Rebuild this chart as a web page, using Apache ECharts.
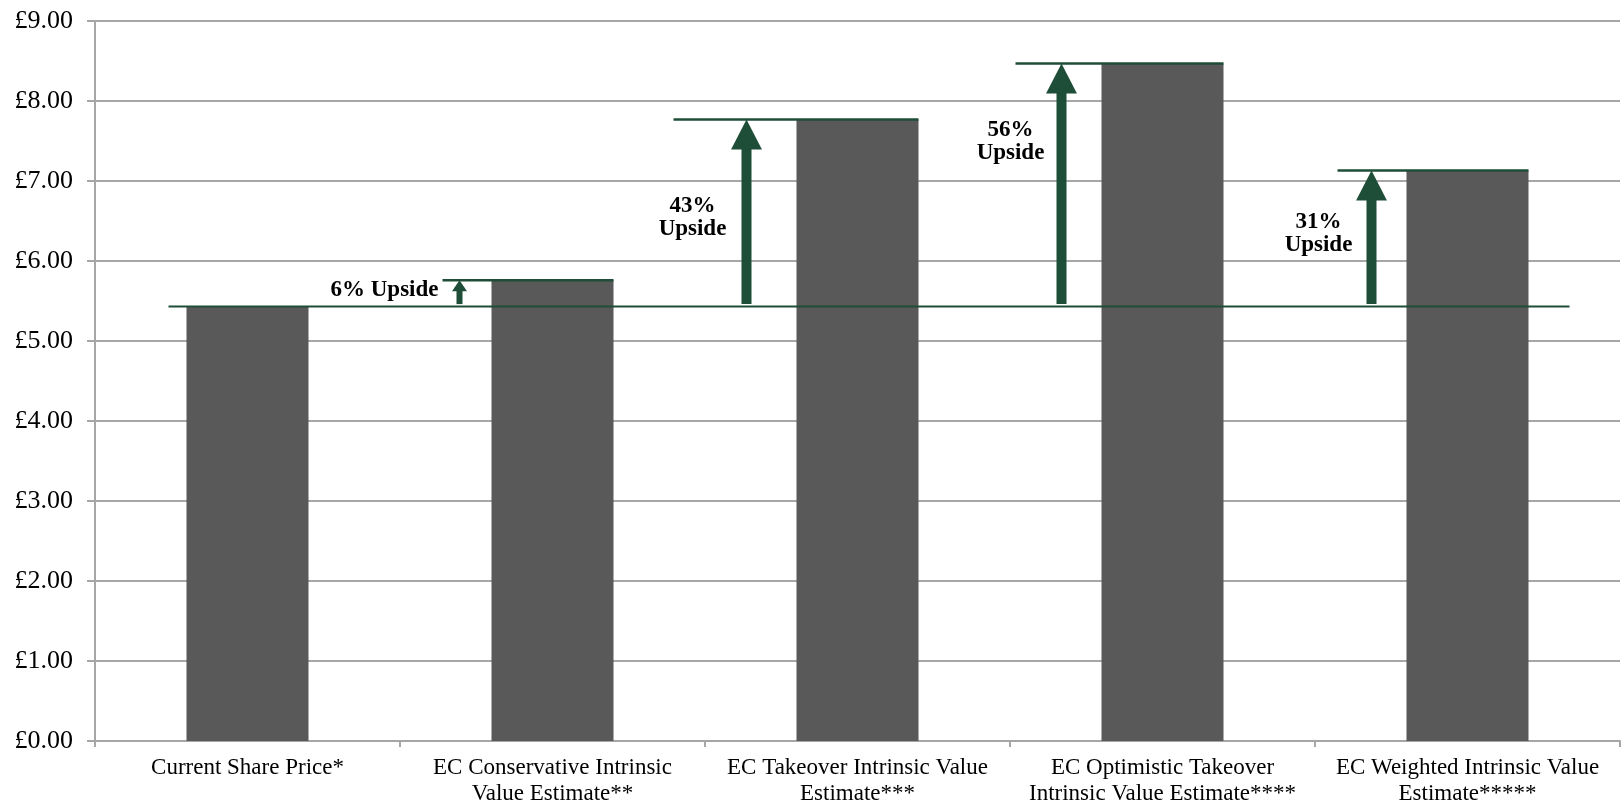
<!DOCTYPE html>
<html>
<head>
<meta charset="utf-8">
<script src="https://cdn.jsdelivr.net/npm/echarts@6/dist/echarts.min.js"></script>
<style>
  html, body { margin: 0; padding: 0; background: #fff; }
  #chart { width: 1623px; height: 806px; }
</style>
</head>
<body>
<div id="chart"></div>
<script>
// data
var categories = [
    'Current Share Price*',
    'EC Conservative Intrinsic\nValue Estimate**',
    'EC Takeover Intrinsic Value\nEstimate***',
    'EC Optimistic Takeover\nIntrinsic Value Estimate****',
    'EC Weighted Intrinsic Value\nEstimate*****'
];
var prices = [5.43, 5.76, 7.77, 8.47, 7.13];
var currentPrice = 5.43;
var upsideLabels = ['', '6% Upside', '43%\nUpside', '56%\nUpside', '31%\nUpside'];

// layout for the annotations (pixels, relative to the category centre)
var arrowDx = [0, -93, -111, -101, -96];
var capLineDx = [0, -110, -184, -147, -130];
var labelDx = [0, -21, -54, -51, -53];
var labelDy = [0, 10, 98, 78, 63];

var GREEN = '#1e4d38';
var GRAY = '#a6a6a6';
var FONT = '"Liberation Serif", "DejaVu Serif", serif';

var myChart = echarts.init(document.getElementById('chart'));

function arrowItem(params, api) {
    var i = api.value(0);
    if (i === 0) return;
    var base = api.coord([i, currentPrice]);
    var top = api.coord([i, api.value(1)]);
    var cx = base[0];
    var ax = cx + arrowDx[i];
    var len = base[1] - top[1];
    var headH = Math.min(30, len * 0.42);
    var headW = Math.max(15, headH * 1.03);
    var shaftW = len < 60 ? 6 : 10;
    var barHalf = 61;
    var children = [
        {
            type: 'line',
            shape: { x1: cx + capLineDx[i], y1: top[1], x2: cx + barHalf, y2: top[1] },
            style: { stroke: GREEN, lineWidth: 2.5 }
        },
        {
            type: 'rect',
            shape: { x: ax - shaftW / 2, y: top[1] + headH - 1, width: shaftW, height: len - headH - 1.5 },
            style: { fill: GREEN }
        },
        {
            type: 'polygon',
            shape: { points: [[ax - headW / 2, top[1] + headH], [ax + headW / 2, top[1] + headH], [ax, top[1]]] },
            style: { fill: GREEN }
        }
    ];
    var single = upsideLabels[i].indexOf('\n') < 0;
    children.push({
        type: 'text',
        style: {
            text: upsideLabels[i],
            x: ax + labelDx[i],
            y: top[1] + labelDy[i],
            align: single ? 'right' : 'center',
            verticalAlign: 'middle',
            font: 'bold 23px ' + FONT,
            lineHeight: 23,
            fill: '#000'
        }
    });
    return { type: 'group', children: children };
}

function baselineItem(params, api) {
    var a = api.coord([0, currentPrice]);
    var b = api.coord([categories.length - 1, currentPrice]);
    return {
        type: 'line',
        shape: { x1: a[0] - 79, y1: a[1], x2: b[0] + 102, y2: a[1] },
        style: { stroke: GREEN, lineWidth: 2 }
    };
}

var option = {
    animation: false,
    grid: { left: 95, right: 3, top: 21, bottom: 65, containLabel: false, outerBoundsMode: 'none' },
    xAxis: {
        type: 'category',
        data: categories,
        axisLine: { lineStyle: { color: GRAY, width: 2 } },
        axisTick: { show: true, length: 6, lineStyle: { color: GRAY, width: 2 } },
        axisLabel: {
            color: '#000',
            fontFamily: FONT,
            fontSize: 23,
            lineHeight: 26,
            margin: 14,
            interval: 0
        }
    },
    yAxis: {
        type: 'value',
        min: 0,
        max: 9,
        interval: 1,
        axisLine: { show: true, lineStyle: { color: GRAY, width: 2 } },
        axisTick: { show: true, length: 8, lineStyle: { color: GRAY, width: 2 } },
        splitLine: { lineStyle: { color: GRAY, width: 2 } },
        axisLabel: {
            color: '#000',
            fontFamily: FONT,
            fontSize: 26,
            margin: 22,
            formatter: function (v) { return '£' + v.toFixed(2); }
        }
    },
    series: [
        {
            type: 'bar',
            data: prices,
            barWidth: 122,
            itemStyle: { color: '#595959' },
            z: 2
        },
        {
            type: 'custom',
            renderItem: baselineItem,
            data: [[0, currentPrice]],
            z: 3
        },
        {
            type: 'custom',
            renderItem: arrowItem,
            data: prices.map(function (p, i) { return [i, p]; }),
            z: 4
        }
    ]
};

myChart.setOption(option);
</script>
</body>
</html>
